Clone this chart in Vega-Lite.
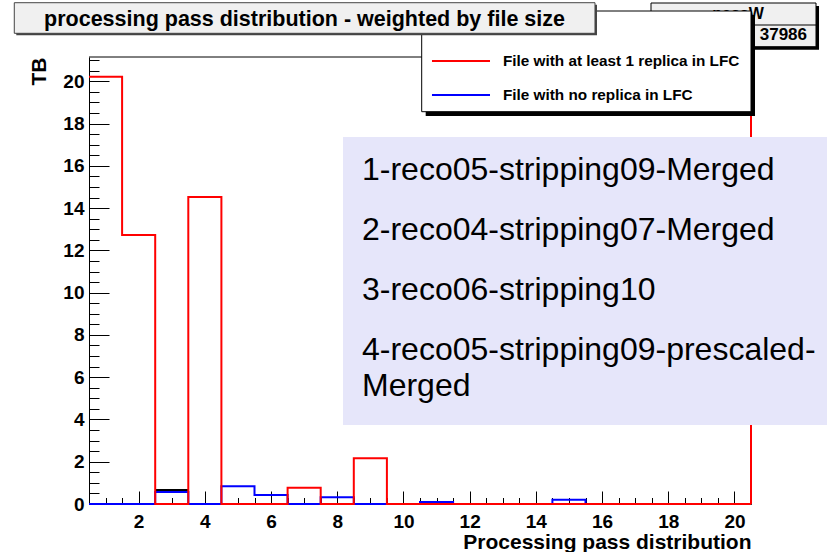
{
  "$schema": "https://vega.github.io/schema/vega-lite/v6.json",
  "width": 662,
  "height": 447,
  "autosize": {"type": "none"},
  "padding": {"left": 89, "top": 57, "right": 76, "bottom": 48},
  "background": "white",
  "config": {"view": {"stroke": null}, "font": "Liberation Sans", "axis": {"grid": false}},
  "datasets": {
    "hist": [
      {"series": "File with at least 1 replica in LFC", "edge": 0.5, "TB": 20.22},
      {"series": "File with at least 1 replica in LFC", "edge": 1.5, "TB": 12.73},
      {"series": "File with at least 1 replica in LFC", "edge": 2.5, "TB": 0},
      {"series": "File with at least 1 replica in LFC", "edge": 3.5, "TB": 14.53},
      {"series": "File with at least 1 replica in LFC", "edge": 4.5, "TB": 0},
      {"series": "File with at least 1 replica in LFC", "edge": 5.5, "TB": 0},
      {"series": "File with at least 1 replica in LFC", "edge": 6.5, "TB": 0.77},
      {"series": "File with at least 1 replica in LFC", "edge": 7.5, "TB": 0},
      {"series": "File with at least 1 replica in LFC", "edge": 8.5, "TB": 2.16},
      {"series": "File with at least 1 replica in LFC", "edge": 9.5, "TB": 0},
      {"series": "File with at least 1 replica in LFC", "edge": 10.5, "TB": 0},
      {"series": "File with at least 1 replica in LFC", "edge": 11.5, "TB": 0},
      {"series": "File with at least 1 replica in LFC", "edge": 12.5, "TB": 0},
      {"series": "File with at least 1 replica in LFC", "edge": 13.5, "TB": 0},
      {"series": "File with at least 1 replica in LFC", "edge": 14.5, "TB": 0},
      {"series": "File with at least 1 replica in LFC", "edge": 15.5, "TB": 0},
      {"series": "File with at least 1 replica in LFC", "edge": 16.5, "TB": 0},
      {"series": "File with at least 1 replica in LFC", "edge": 17.5, "TB": 0},
      {"series": "File with at least 1 replica in LFC", "edge": 18.5, "TB": 0},
      {"series": "File with at least 1 replica in LFC", "edge": 19.5, "TB": 0},
      {"series": "File with at least 1 replica in LFC", "edge": 20.5, "TB": 0},
      {"series": "File with no replica in LFC", "edge": 0.5, "TB": 0},
      {"series": "File with no replica in LFC", "edge": 1.5, "TB": 0},
      {"series": "File with no replica in LFC", "edge": 2.5, "TB": 0.57},
      {"series": "File with no replica in LFC", "edge": 3.5, "TB": 0},
      {"series": "File with no replica in LFC", "edge": 4.5, "TB": 0.84},
      {"series": "File with no replica in LFC", "edge": 5.5, "TB": 0.43},
      {"series": "File with no replica in LFC", "edge": 6.5, "TB": 0},
      {"series": "File with no replica in LFC", "edge": 7.5, "TB": 0.32},
      {"series": "File with no replica in LFC", "edge": 8.5, "TB": 0},
      {"series": "File with no replica in LFC", "edge": 9.5, "TB": 0},
      {"series": "File with no replica in LFC", "edge": 10.5, "TB": 0.1},
      {"series": "File with no replica in LFC", "edge": 11.5, "TB": 0},
      {"series": "File with no replica in LFC", "edge": 12.5, "TB": 0},
      {"series": "File with no replica in LFC", "edge": 13.5, "TB": 0},
      {"series": "File with no replica in LFC", "edge": 14.5, "TB": 0.2},
      {"series": "File with no replica in LFC", "edge": 15.5, "TB": 0},
      {"series": "File with no replica in LFC", "edge": 16.5, "TB": 0},
      {"series": "File with no replica in LFC", "edge": 17.5, "TB": 0},
      {"series": "File with no replica in LFC", "edge": 18.5, "TB": 0},
      {"series": "File with no replica in LFC", "edge": 19.5, "TB": 0},
      {"series": "File with no replica in LFC", "edge": 20.5, "TB": 0}
    ],
    "other": [
      {"series": "other", "edge": 2.5, "TB": 0.66},
      {"series": "other", "edge": 3.5, "TB": 0.66}
    ],
    "one": [{}]
  },
  "resolve": {"axis": {"x": "independent", "y": "independent"}},
  "layer": [
    {
      "data": {"name": "other"},
      "mark": {"type": "line", "interpolate": "step-after", "color": "black", "strokeWidth": 2},
      "encoding": {
        "x": {"field": "edge", "type": "quantitative", "scale": {"domain": [0.5, 20.5], "nice": false, "zero": false}, "axis": null},
        "y": {"field": "TB", "type": "quantitative", "scale": {"domain": [0, 21.15], "nice": false, "zero": false}, "axis": null}
      }
    },
    {
      "data": {"name": "hist"},
      "transform": [{"filter": "datum.series === 'File with no replica in LFC'"}],
      "mark": {"type": "line", "interpolate": "step-after", "color": "#0000ff", "strokeWidth": 2},
      "encoding": {
        "x": {"field": "edge", "type": "quantitative", "scale": {"domain": [0.5, 20.5], "nice": false, "zero": false},
          "axis": {"orient": "bottom", "values": [2, 4, 6, 8, 10, 12, 14, 16, 18, 20], "format": "d", "tickSize": -13, "tickColor": "black", "tickWidth": 1,
            "domainColor": "black", "domainWidth": 1, "labelFont": "Liberation Sans", "labelFontWeight": "bold", "labelFontSize": 19, "labelColor": "black",
            "labelPadding": 21, "labelFlush": false, "labelOverlap": false,
            "title": "Processing pass distribution", "titleFont": "Liberation Sans", "titleFontSize": 21, "titleFontWeight": "bold", "titleColor": "black",
            "titleX": 662, "titleY": 44, "titleAlign": "right", "titleBaseline": "alphabetic"}},
        "y": {"field": "TB", "type": "quantitative", "scale": {"domain": [0, 21.15], "nice": false, "zero": false},
          "axis": {"orient": "left", "values": [0, 2, 4, 6, 8, 10, 12, 14, 16, 18, 20], "format": "d", "tickSize": -20, "tickColor": "black", "tickWidth": 1,
            "domainColor": "black", "domainWidth": 1, "labelFont": "Liberation Sans", "labelFontWeight": "bold", "labelFontSize": 19, "labelColor": "black",
            "labelPadding": 25, "labelFlush": false, "labelOverlap": false,
            "title": "TB", "titleFont": "Liberation Sans", "titleFontSize": 21, "titleFontWeight": "bold", "titleColor": "black",
            "titleX": -44, "titleY": 0, "titleAngle": 270, "titleAlign": "right", "titleBaseline": "alphabetic"}}
      }
    },
    {
      "data": {"name": "hist"},
      "transform": [{"filter": "datum.series === 'File with at least 1 replica in LFC'"}],
      "mark": {"type": "line", "interpolate": "step-after", "color": "#ff0000", "strokeWidth": 2},
      "encoding": {
        "x": {"field": "edge", "type": "quantitative", "scale": {"domain": [0.5, 20.5], "nice": false, "zero": false},
          "axis": {"orient": "bottom", "values": [1, 1.5, 2.5, 3, 3.5, 4.5, 5, 5.5, 6.5, 7, 7.5, 8.5, 9, 9.5, 10.5, 11, 11.5, 12.5, 13, 13.5, 14.5, 15, 15.5, 16.5, 17, 17.5, 18.5, 19, 19.5, 20.5],
            "labels": false, "domain": false, "tickSize": -6.5, "tickColor": "black", "tickWidth": 1, "title": null}},
        "y": {"field": "TB", "type": "quantitative", "scale": {"domain": [0, 21.15], "nice": false, "zero": false},
          "axis": {"orient": "left", "values": [0.5, 1, 1.5, 2.5, 3, 3.5, 4.5, 5, 5.5, 6.5, 7, 7.5, 8.5, 9, 9.5, 10.5, 11, 11.5, 12.5, 13, 13.5, 14.5, 15, 15.5, 16.5, 17, 17.5, 18.5, 19, 19.5, 20.5, 21],
            "labels": false, "domain": false, "tickSize": -10, "tickColor": "black", "tickWidth": 1, "title": null}}
      }
    },
    {
      "data": {"name": "one"},
      "mark": {"type": "rule", "color": "#ff0000", "strokeWidth": 2},
      "encoding": {
        "x": {"datum": 20.5, "type": "quantitative", "scale": {"domain": [0.5, 20.5], "nice": false, "zero": false}, "axis": null},
        "y": {"datum": 0, "type": "quantitative", "scale": {"domain": [0, 21.15], "nice": false, "zero": false}, "axis": null},
        "y2": {"datum": 22.5}
      }
    },
    {
      "data": {"name": "one"},
      "mark": {"type": "rule", "color": "black", "strokeWidth": 1},
      "encoding": {
        "x": {"datum": 0.5, "type": "quantitative", "scale": {"domain": [0.5, 20.5], "nice": false, "zero": false}, "axis": null},
        "x2": {"datum": 20.5},
        "y": {"datum": 21.15, "type": "quantitative", "scale": {"domain": [0, 21.15], "nice": false, "zero": false}, "axis": null}
      }
    },
    {
      "data": {"name": "one"},
      "mark": {"type": "rect", "color": "black"},
      "encoding": {
        "x": {"datum": 17.57, "type": "quantitative", "scale": {"domain": [0.5, 20.5], "nice": false, "zero": false}, "axis": null},
        "x2": {"datum": 22.555},
        "y": {"datum": 23.563, "type": "quantitative", "scale": {"domain": [0, 21.15], "nice": false, "zero": false}, "axis": null},
        "y2": {"datum": 21.495}
      }
    },
    {
      "data": {"name": "one"},
      "mark": {"type": "rect", "fill": "#f0f0f0", "stroke": "black", "strokeWidth": 1},
      "encoding": {
        "x": {"datum": 17.479, "type": "quantitative", "scale": {"domain": [0.5, 20.5], "nice": false, "zero": false}, "axis": null},
        "x2": {"datum": 22.464},
        "y": {"datum": 23.705, "type": "quantitative", "scale": {"domain": [0, 21.15], "nice": false, "zero": false}, "axis": null},
        "y2": {"datum": 21.637}
      }
    },
    {
      "data": {"name": "one"},
      "mark": {"type": "rule", "color": "black", "strokeWidth": 1},
      "encoding": {
        "x": {"datum": 17.479, "type": "quantitative", "scale": {"domain": [0.5, 20.5], "nice": false, "zero": false}, "axis": null},
        "x2": {"datum": 22.464},
        "y": {"datum": 22.664, "type": "quantitative", "scale": {"domain": [0, 21.15], "nice": false, "zero": false}, "axis": null}
      }
    },
    {
      "data": {"name": "one"},
      "mark": {"type": "text", "text": "passW", "font": "Liberation Sans", "fontWeight": "bold", "fontSize": 16, "color": "black", "align": "center", "baseline": "alphabetic"},
      "encoding": {
        "x": {"datum": 20.107, "type": "quantitative", "scale": {"domain": [0.5, 20.5], "nice": false, "zero": false}, "axis": null},
        "y": {"datum": 22.971, "type": "quantitative", "scale": {"domain": [0, 21.15], "nice": false, "zero": false}, "axis": null}
      }
    },
    {
      "data": {"name": "one"},
      "mark": {"type": "text", "text": "37986", "font": "Liberation Sans", "fontWeight": "bold", "fontSize": 17, "color": "black", "align": "right", "baseline": "alphabetic"},
      "encoding": {
        "x": {"datum": 22.192, "type": "quantitative", "scale": {"domain": [0.5, 20.5], "nice": false, "zero": false}, "axis": null},
        "y": {"datum": 21.954, "type": "quantitative", "scale": {"domain": [0, 21.15], "nice": false, "zero": false}, "axis": null}
      }
    },
    {
      "data": {"name": "one"},
      "mark": {"type": "rect", "color": "black"},
      "encoding": {
        "x": {"datum": 10.672, "type": "quantitative", "scale": {"domain": [0.5, 20.5], "nice": false, "zero": false}, "axis": null},
        "x2": {"datum": 20.621},
        "y": {"datum": 23.137, "type": "quantitative", "scale": {"domain": [0, 21.15], "nice": false, "zero": false}, "axis": null},
        "y2": {"datum": 18.358}
      }
    },
    {
      "data": {"name": "one"},
      "mark": {"type": "rect", "fill": "white", "stroke": "black", "strokeWidth": 1},
      "encoding": {
        "x": {"datum": 10.551, "type": "quantitative", "scale": {"domain": [0.5, 20.5], "nice": false, "zero": false}, "axis": null},
        "x2": {"datum": 20.5},
        "y": {"datum": 23.326, "type": "quantitative", "scale": {"domain": [0, 21.15], "nice": false, "zero": false}, "axis": null},
        "y2": {"datum": 18.562}
      }
    },
    {
      "data": {"name": "one"},
      "mark": {"type": "rule", "color": "#ff0000", "strokeWidth": 2},
      "encoding": {
        "x": {"datum": 10.862, "type": "quantitative", "scale": {"domain": [0.5, 20.5], "nice": false, "zero": false}, "axis": null},
        "x2": {"datum": 12.615},
        "y": {"datum": 20.961, "type": "quantitative", "scale": {"domain": [0, 21.15], "nice": false, "zero": false}, "axis": null}
      }
    },
    {
      "data": {"name": "one"},
      "mark": {"type": "rule", "color": "#0000ff", "strokeWidth": 2},
      "encoding": {
        "x": {"datum": 10.862, "type": "quantitative", "scale": {"domain": [0.5, 20.5], "nice": false, "zero": false}, "axis": null},
        "x2": {"datum": 12.615},
        "y": {"datum": 19.352, "type": "quantitative", "scale": {"domain": [0, 21.15], "nice": false, "zero": false}, "axis": null}
      }
    },
    {
      "data": {"name": "one"},
      "mark": {"type": "text", "text": "File with at least 1 replica in LFC", "font": "Liberation Sans", "fontWeight": "bold", "fontSize": 15.3, "color": "black", "align": "left", "baseline": "alphabetic"},
      "encoding": {
        "x": {"datum": 13.008, "type": "quantitative", "scale": {"domain": [0.5, 20.5], "nice": false, "zero": false}, "axis": null},
        "y": {"datum": 20.747, "type": "quantitative", "scale": {"domain": [0, 21.15], "nice": false, "zero": false}, "axis": null}
      }
    },
    {
      "data": {"name": "one"},
      "mark": {"type": "text", "text": "File with no replica in LFC", "font": "Liberation Sans", "fontWeight": "bold", "fontSize": 15.3, "color": "black", "align": "left", "baseline": "alphabetic"},
      "encoding": {
        "x": {"datum": 13.008, "type": "quantitative", "scale": {"domain": [0.5, 20.5], "nice": false, "zero": false}, "axis": null},
        "y": {"datum": 19.139, "type": "quantitative", "scale": {"domain": [0, 21.15], "nice": false, "zero": false}, "axis": null}
      }
    },
    {
      "data": {"name": "one"},
      "mark": {"type": "rect", "color": "#444444"},
      "encoding": {
        "x": {"datum": -1.697, "type": "quantitative", "scale": {"domain": [0.5, 20.5], "nice": false, "zero": false}, "axis": null},
        "x2": {"datum": 15.847},
        "y": {"datum": 23.624, "type": "quantitative", "scale": {"domain": [0, 21.15], "nice": false, "zero": false}, "axis": null},
        "y2": {"datum": 22.176}
      }
    },
    {
      "data": {"name": "one"},
      "mark": {"type": "rect", "fill": "#f0f0f0", "stroke": "#444444", "strokeWidth": 1},
      "encoding": {
        "x": {"datum": -1.757, "type": "quantitative", "scale": {"domain": [0.5, 20.5], "nice": false, "zero": false}, "axis": null},
        "x2": {"datum": 15.787},
        "y": {"datum": 23.719, "type": "quantitative", "scale": {"domain": [0, 21.15], "nice": false, "zero": false}, "axis": null},
        "y2": {"datum": 22.271}
      }
    },
    {
      "data": {"name": "one"},
      "mark": {"type": "text", "text": "processing pass distribution - weighted by file size", "font": "Liberation Sans", "fontWeight": "bold", "fontSize": 21.5, "color": "black", "align": "center", "baseline": "alphabetic"},
      "encoding": {
        "x": {"datum": 7.011, "type": "quantitative", "scale": {"domain": [0.5, 20.5], "nice": false, "zero": false}, "axis": null},
        "y": {"datum": 22.616, "type": "quantitative", "scale": {"domain": [0, 21.15], "nice": false, "zero": false}, "axis": null}
      }
    },
    {
      "data": {"name": "one"},
      "mark": {"type": "rect", "color": "#e6e6fa"},
      "encoding": {
        "x": {"datum": 8.174, "type": "quantitative", "scale": {"domain": [0.5, 20.5], "nice": false, "zero": false}, "axis": null},
        "x2": {"datum": 22.887},
        "y": {"datum": 17.365, "type": "quantitative", "scale": {"domain": [0, 21.15], "nice": false, "zero": false}, "axis": null},
        "y2": {"datum": 3.738}
      }
    },
    {
      "data": {"name": "one"},
      "mark": {"type": "text", "text": ["1-reco05-stripping09-Merged", "2-reco04-stripping07-Merged", "3-reco06-stripping10", "4-reco05-stripping09-prescaled-"], "lineHeight": 60, "font": "Liberation Sans", "fontSize": 32, "color": "black", "align": "left", "baseline": "alphabetic"},
      "encoding": {
        "x": {"datum": 8.748, "type": "quantitative", "scale": {"domain": [0.5, 20.5], "nice": false, "zero": false}, "axis": null},
        "y": {"datum": 15.33, "type": "quantitative", "scale": {"domain": [0, 21.15], "nice": false, "zero": false}, "axis": null}
      }
    },
    {
      "data": {"name": "one"},
      "mark": {"type": "text", "text": "Merged", "font": "Liberation Sans", "fontSize": 32, "color": "black", "align": "left", "baseline": "alphabetic"},
      "encoding": {
        "x": {"datum": 8.748, "type": "quantitative", "scale": {"domain": [0.5, 20.5], "nice": false, "zero": false}, "axis": null},
        "y": {"datum": 5.11, "type": "quantitative", "scale": {"domain": [0, 21.15], "nice": false, "zero": false}, "axis": null}
      }
    }
  ]
}
